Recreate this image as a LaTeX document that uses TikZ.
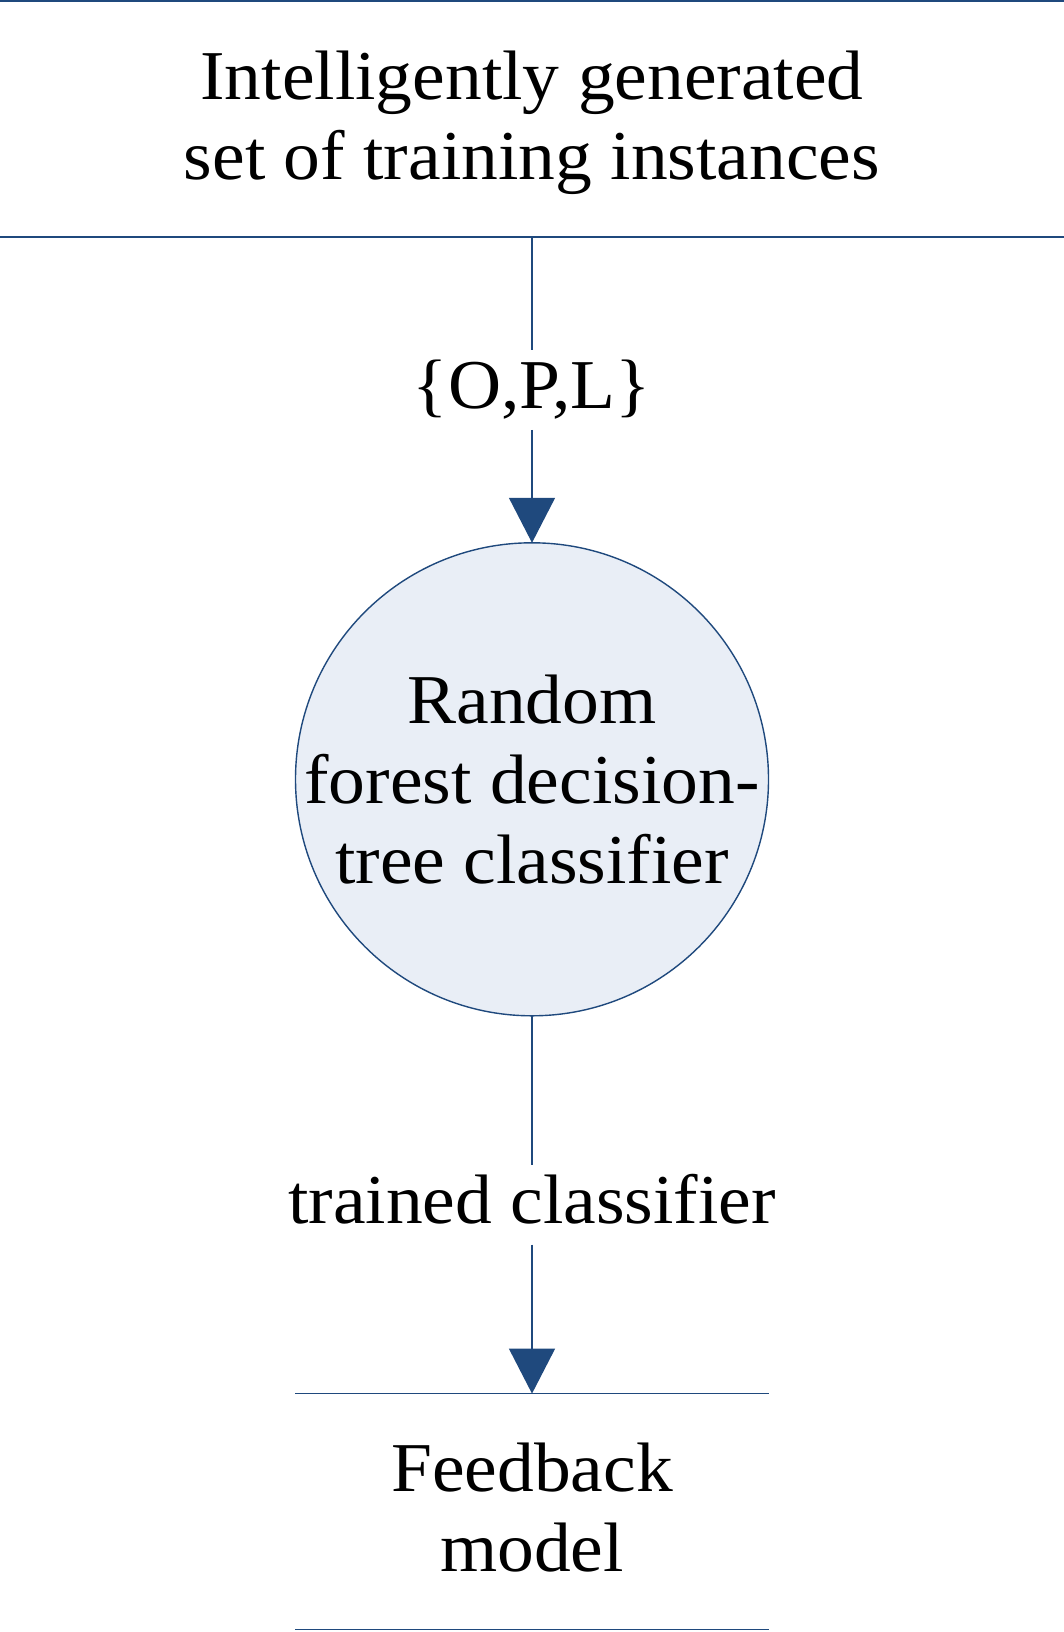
\documentclass[tikz,border=0pt]{standalone}
\usepackage{fontspec}
\setmainfont{Liberation Serif}[FakeStretch=1.05]
\usetikzlibrary{arrows.meta,positioning}
\definecolor{dfdblue}{RGB}{31,73,125}
\definecolor{dfdfill}{RGB}{233,238,246}

\begin{document}
\begin{tikzpicture}[->,>={Triangle[width=23pt,length=22.5pt]},line width=0.7pt,
  every node/.style={font=\fontsize{35}{40}\selectfont,outer sep=0pt},
  store/.style={align=center,inner sep=0pt,text depth=4pt},
  process/.style={circle,draw=dfdblue,fill=dfdfill,align=center,inner sep=-6pt,minimum size=236.5pt},
  flowlabel/.style={inner sep=0pt,text height=29.4pt,text depth=10.5pt},
  flow/.style={dfdblue},
  storeline/.style={-,dfdblue}]

  \useasboundingbox (0,0) rectangle (532pt,-816pt);

  \node[store,minimum width=532pt,minimum height=117.9pt] (train) at (266pt,-59.55pt)
    {Intelligently generated\\set of training instances};
  \node[flowlabel] (opl) [below=56.5pt of train] {\{O,P,L\}};
  \node[process] (rf) [below=56.5pt of opl] {Random\\forest decision-\\tree classifier};
  \node[flowlabel] (trained) [below=74.5pt of rf] {trained classifier};
  \node[store,minimum width=237pt,minimum height=118pt] (feedback) [below=74.5pt of trained]
    {Feedback\\model};

  % data stores
  \draw[storeline] (train.north west) -- (train.north east)
    (train.south west) -- (train.south east);
  \draw[storeline] (feedback.north west) -- (feedback.north east)
    (feedback.south west) -- (feedback.south east);

  % flows
  \draw[flow,-] (train) -- (opl);
  \draw[flow] (opl) -- (rf);
  \draw[flow,-] (rf) -- (trained);
  \draw[flow] (trained) -- (feedback);
\end{tikzpicture}
\end{document}
